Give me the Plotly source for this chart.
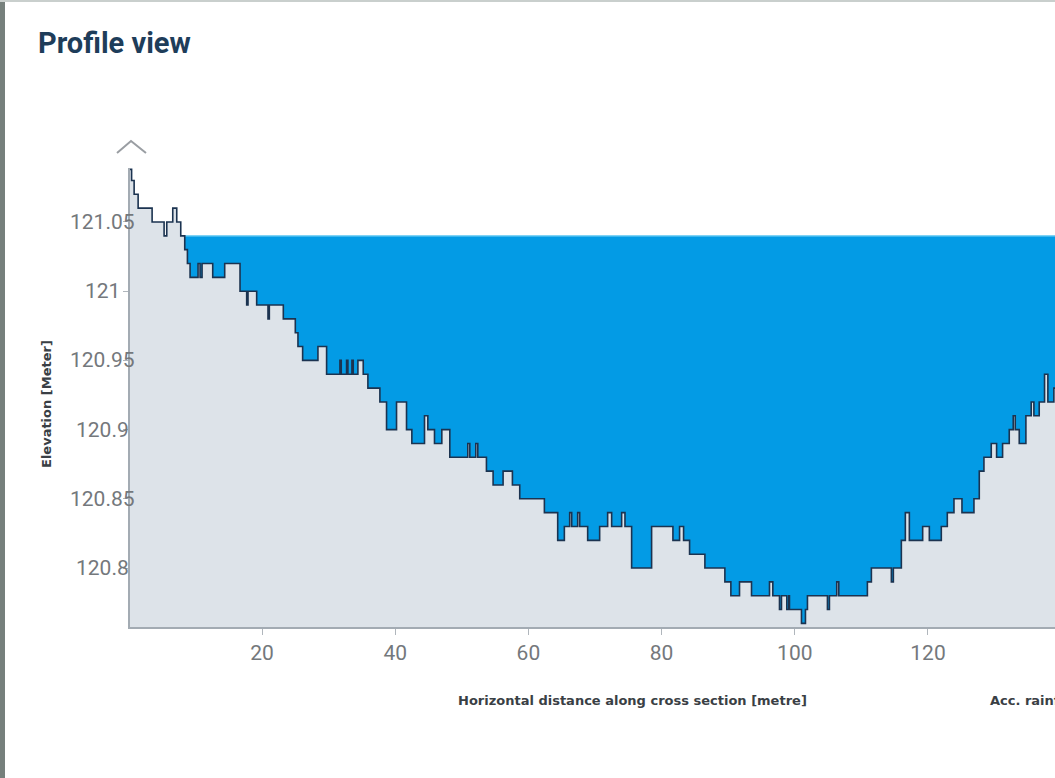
import plotly.graph_objects as go

# Terrain profile (step starts): horizontal distance [m] and elevation [m]
distance = [0.18, 0.42, 0.8, 1.4, 3.5, 5.3, 5.7, 6.6, 7.2, 7.8, 8.4, 8.8, 9.2, 10.4, 10.7, 11.0,
            12.6, 14.4, 16.7, 17.7, 17.9, 19.2, 20.9, 21.1, 23.2, 25.0, 25.4, 26.1, 28.4, 29.7,
            31.7, 31.9, 32.7, 32.9, 33.5, 33.7, 34.4, 35.2, 35.9, 37.7, 38.7, 40.2, 41.7, 42.5,
            44.4, 44.9, 45.9, 47.0, 48.2, 50.9, 51.2, 52.1, 52.4, 53.7, 54.7, 56.2, 57.6, 58.7,
            62.4, 64.4, 65.4, 66.2, 66.5, 67.4, 67.7, 68.9, 70.7, 71.9, 72.5, 74.0, 74.5, 75.5,
            78.5, 81.7, 82.7, 83.3, 84.2, 86.5, 89.5, 90.4, 91.7, 93.5, 96.2, 96.7, 97.7, 98.0,
            98.8, 99.1, 99.2, 101.0, 101.6, 101.9, 104.9, 105.2, 106.3, 106.6, 110.9, 111.5,
            114.5, 114.8, 116.0, 116.6, 117.2, 119.2, 120.2, 122.0, 122.9, 123.9, 125.1, 126.9,
            127.7, 128.4, 129.5, 130.3, 131.2, 132.2, 132.8, 133.1, 133.7, 134.7, 135.5, 135.9,
            136.7, 137.5, 138.0, 138.9, 141.0]
elevation = [121.088, 121.08, 121.07, 121.06, 121.05, 121.04, 121.05, 121.06, 121.05, 121.04,
             121.03, 121.02, 121.01, 121.02, 121.01, 121.02, 121.01, 121.02, 121.00, 120.99,
             121.00, 120.99, 120.98, 120.99, 120.98, 120.97, 120.96, 120.95, 120.96, 120.94,
             120.95, 120.94, 120.95, 120.94, 120.95, 120.94, 120.95, 120.94, 120.93, 120.92,
             120.90, 120.92, 120.90, 120.89, 120.91, 120.90, 120.89, 120.90, 120.88, 120.89,
             120.88, 120.89, 120.88, 120.87, 120.86, 120.87, 120.86, 120.85, 120.84, 120.82,
             120.83, 120.84, 120.83, 120.84, 120.83, 120.82, 120.83, 120.84, 120.83, 120.84,
             120.83, 120.80, 120.83, 120.82, 120.83, 120.82, 120.81, 120.80, 120.79, 120.78,
             120.79, 120.78, 120.79, 120.78, 120.77, 120.78, 120.77, 120.78, 120.77, 120.76,
             120.77, 120.78, 120.77, 120.78, 120.79, 120.78, 120.79, 120.80, 120.79, 120.80,
             120.82, 120.84, 120.82, 120.83, 120.82, 120.83, 120.84, 120.85, 120.84, 120.85,
             120.87, 120.88, 120.89, 120.88, 120.89, 120.90, 120.91, 120.90, 120.89, 120.91,
             120.92, 120.91, 120.92, 120.94, 120.92, 120.93, 120.95]

water_x = [0.18, 141.0]
water_level = [121.04, 121.04]

y_ticks = [120.8, 120.85, 120.9, 120.95, 121, 121.05]
y_tick_labels = ["120.8", "120.85", "120.9", "120.95", "121", "121.05"]
x_ticks = [20, 40, 60, 80, 100, 120, 140]

FONT = "Roboto"
TITLE_FONT = "DejaVu Sans"

fig = go.Figure()
fig.add_trace(go.Scatter(
    x=water_x, y=water_level, mode="lines",
    line=dict(color="#7fd3f5", width=1.5),
    fill="tozeroy", fillcolor="#039be5", hoverinfo="skip", showlegend=False))
fig.add_trace(go.Scatter(
    x=distance, y=elevation, mode="lines", line_shape="hv",
    line=dict(color="#1b3350", width=1.6),
    fill="tozeroy", fillcolor="#dde3e9", showlegend=False))

ann = []
for v, t in zip(y_ticks, y_tick_labels):
    ann.append(dict(x=0, xref="paper", y=v, yref="y", xshift=-28, xanchor="center",
                    yanchor="middle", text=t, showarrow=False,
                    font=dict(family=FONT, size=21, color="#74787c")))
ann.append(dict(x=(632 - 130) / 925, xref="paper", y=(627 - 700) / 459, yref="paper",
                text="<b>Horizontal distance along cross section [metre]</b>", showarrow=False,
                xanchor="center", yanchor="middle",
                font=dict(family=TITLE_FONT, size=13, color="#3a3f45")))
ann.append(dict(x=(988 - 130) / 925, xref="paper", y=(627 - 700) / 459, yref="paper",
                text="<b>Acc. rainfall [mm]</b>", showarrow=False,
                xanchor="left", yanchor="middle",
                font=dict(family=TITLE_FONT, size=13, color="#3a3f45")))
ann.append(dict(x=(46 - 130) / 925, xref="paper", y=(627 - 404) / 459, yref="paper",
                text="<b>Elevation [Meter]</b>", showarrow=False, textangle=-90,
                xanchor="center", yanchor="middle",
                font=dict(family=TITLE_FONT, size=13, color="#3a3f45")))

shapes = [
    dict(type="path", xref="paper", yref="paper",
         path="M %f %f L %f %f L %f %f" % ((117 - 130) / 925, (627 - 153) / 459,
                                         (131 - 130) / 925, (627 - 141) / 459,
                                         (146 - 130) / 925, (627 - 153) / 459),
         line=dict(color="#9a9ea3", width=2)),
    # screenshot frame edges (left dark strip, thin top border)
    dict(type="rect", xref="paper", yref="paper",
         x0=(0 - 130) / 925, x1=(5 - 130) / 925, y0=(627 - 778) / 459, y1=(627 - 0) / 459,
         line=dict(width=0), fillcolor="#76807c", layer="above"),
    dict(type="rect", xref="paper", yref="paper",
         x0=(0 - 130) / 925, x1=(1055 - 130) / 925, y0=(627 - 2) / 459, y1=(627 - 0) / 459,
         line=dict(width=0), fillcolor="#c9cfcd", layer="above"),
]

fig.update_layout(
    width=1055, height=778,
    margin=dict(l=130, r=0, t=168, b=151),
    paper_bgcolor="white", plot_bgcolor="white",
    title=dict(text="<b>Profile view</b>", x=38 / 1055, xref="container", xanchor="left",
               y=1 - 43 / 778, yref="container", yanchor="middle",
               font=dict(family=FONT, size=29, color="#1e3d5a")),
    xaxis=dict(range=[0.18, 139.07], tickvals=x_ticks, showgrid=False, zeroline=False,
               showline=True, linecolor="#a3abb3", linewidth=1.5,
               ticks="outside", ticklen=6, tickcolor="#b0b6bc", tickwidth=1,
               tickfont=dict(family=FONT, size=21, color="#74787c")),
    yaxis=dict(range=[120.7574, 121.089], tickvals=y_ticks, showticklabels=False,
               showgrid=False, zeroline=False, showline=True, linecolor="#a3abb3",
               linewidth=1.5, ticks="outside", ticklen=5, tickcolor="#b0b6bc"),
    annotations=ann, shapes=shapes,
)

fig.write_html("out.html")
